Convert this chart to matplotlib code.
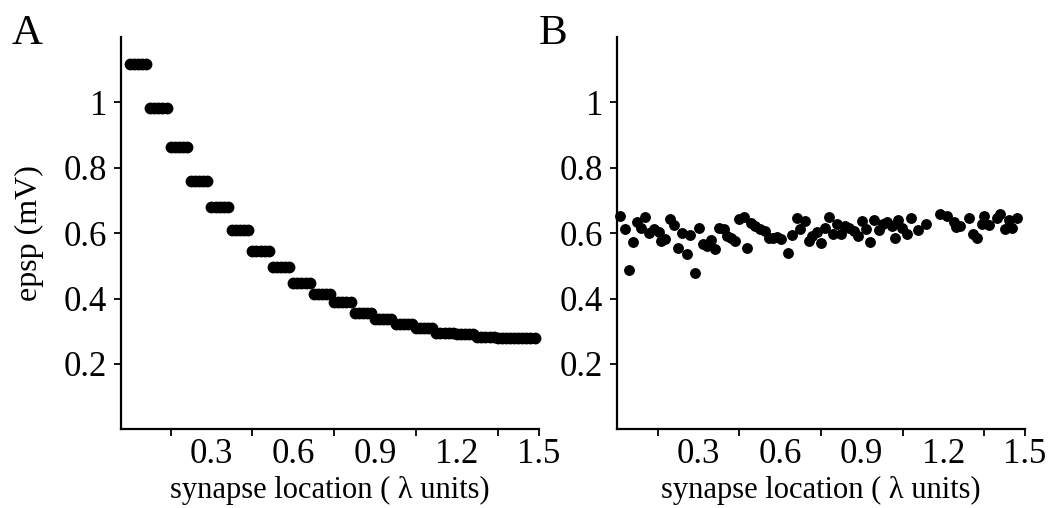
import numpy as np
import matplotlib
matplotlib.use("Agg")
import matplotlib.pyplot as plt

plt.rcParams['font.family'] = ['Liberation Serif', 'DejaVu Serif']

# panel A: 100 synapse locations, epsp in steps of 5 synapses
location_a = [
    0.000, 0.015, 0.030, 0.045, 0.060, 0.075, 0.090, 0.105, 0.120, 0.135,
    0.150, 0.165, 0.180, 0.195, 0.210, 0.225, 0.240, 0.255, 0.270, 0.285,
    0.300, 0.315, 0.330, 0.345, 0.360, 0.375, 0.390, 0.405, 0.420, 0.435,
    0.450, 0.465, 0.480, 0.495, 0.510, 0.525, 0.540, 0.555, 0.570, 0.585,
    0.600, 0.615, 0.630, 0.645, 0.660, 0.675, 0.690, 0.705, 0.720, 0.735,
    0.750, 0.765, 0.780, 0.795, 0.810, 0.825, 0.840, 0.855, 0.870, 0.885,
    0.900, 0.915, 0.930, 0.945, 0.960, 0.975, 0.990, 1.005, 1.020, 1.035,
    1.050, 1.065, 1.080, 1.095, 1.110, 1.125, 1.140, 1.155, 1.170, 1.185,
    1.200, 1.215, 1.230, 1.245, 1.260, 1.275, 1.290, 1.305, 1.320, 1.335,
    1.350, 1.365, 1.380, 1.395, 1.410, 1.425, 1.440, 1.455, 1.470, 1.485,
]
epsp_levels_a = [1.117, 0.982, 0.864, 0.761, 0.679, 0.609, 0.544, 0.496,
                 0.449, 0.414, 0.388, 0.357, 0.338, 0.321, 0.309, 0.296,
                 0.290, 0.283, 0.278, 0.278]
epsp_a = np.repeat(epsp_levels_a, 5)

# panel B
location_b = [
    0.011, 0.029, 0.044, 0.059, 0.074, 0.088, 0.103, 0.118, 0.136, 0.154,
    0.162, 0.176, 0.195, 0.210, 0.224, 0.239, 0.257, 0.268, 0.287, 0.301,
    0.316, 0.331, 0.346, 0.360, 0.375, 0.393, 0.404, 0.419, 0.434, 0.449,
    0.467, 0.478, 0.493, 0.507, 0.526, 0.544, 0.559, 0.574, 0.588, 0.603,
    0.629, 0.643, 0.662, 0.673, 0.691, 0.706, 0.717, 0.735, 0.750, 0.765,
    0.779, 0.794, 0.809, 0.824, 0.838, 0.853, 0.871, 0.886, 0.901, 0.915,
    0.930, 0.945, 0.963, 0.978, 0.993, 1.011, 1.022, 1.033, 1.048, 1.066,
    1.081, 1.107, 1.136, 1.188, 1.213, 1.239, 1.246, 1.261, 1.294, 1.309,
    1.324, 1.342, 1.349, 1.368, 1.397, 1.408, 1.426, 1.441, 1.452, 1.471,
]
epsp_b = [
    0.652, 0.612, 0.487, 0.572, 0.634, 0.616, 0.649, 0.601, 0.612, 0.603,
    0.575, 0.581, 0.642, 0.624, 0.554, 0.601, 0.535, 0.593, 0.478, 0.615,
    0.566, 0.560, 0.578, 0.551, 0.615, 0.612, 0.591, 0.585, 0.576, 0.642,
    0.649, 0.554, 0.630, 0.621, 0.612, 0.606, 0.585, 0.585, 0.588, 0.581,
    0.539, 0.594, 0.646, 0.612, 0.636, 0.576, 0.591, 0.603, 0.570, 0.615,
    0.649, 0.597, 0.627, 0.597, 0.621, 0.615, 0.606, 0.591, 0.636, 0.612,
    0.572, 0.639, 0.609, 0.627, 0.634, 0.621, 0.584, 0.639, 0.615, 0.597,
    0.646, 0.609, 0.627, 0.658, 0.652, 0.634, 0.619, 0.621, 0.646, 0.597,
    0.585, 0.627, 0.652, 0.624, 0.646, 0.658, 0.612, 0.639, 0.615, 0.646,
]

yticks = [0.2, 0.4, 0.6, 0.8, 1.0]
ytick_labels = ['0.2', '0.4', '0.6', '0.8', '1']
xticks = [0.3, 0.6, 0.9, 1.2, 1.5]
xtick_labels = ['0.3', '0.6', '0.9', '1.2', '1.5']
xminor = [0.15, 0.45, 0.75, 1.05, 1.35, 1.5]

fig = plt.figure(figsize=(10.52, 5.08), dpi=100)
ax_a = fig.add_axes([0.115, 0.155, 0.397, 0.772])
ax_b = fig.add_axes([0.5865, 0.155, 0.3878, 0.772])


def style_axis(ax, x0):
    ax.set_xlim(x0, 1.5)
    ax.set_ylim(0, 1.2)
    for s in ['top', 'right']:
        ax.spines[s].set_visible(False)
    for s in ['left', 'bottom']:
        ax.spines[s].set_linewidth(1.6)
    ax.set_yticks(yticks)
    ax.set_yticklabels(ytick_labels)
    ax.set_xticks(xticks)
    ax.set_xticklabels(xtick_labels)
    ax.set_xticks(xminor, minor=True)
    ax.xaxis.remove_overlapping_locs = False
    ax.tick_params(axis='y', direction='out', length=5, width=1.3,
                   labelsize=25, pad=5)
    ax.tick_params(axis='x', which='major', length=0, labelsize=25, pad=6)
    ax.tick_params(axis='x', which='minor', direction='out', length=5,
                   width=1.3)
    ax.set_xlabel('synapse location ( λ units)', fontsize=22, labelpad=4)


ax_a.plot(location_a, epsp_a, 'o', color='black', ms=7.5, clip_on=False)
style_axis(ax_a, -0.032)
ax_a.set_ylabel('epsp (mV)', fontsize=23, labelpad=14)

ax_b.plot(location_b, epsp_b, 'o', color='black', ms=6.8, clip_on=False)
style_axis(ax_b, 0.0)

fig.text(0.011, 0.913, 'A', fontsize=31, va='baseline')
fig.text(0.512, 0.913, 'B', fontsize=31, va='baseline')

fig.savefig('out.png', dpi=100)
